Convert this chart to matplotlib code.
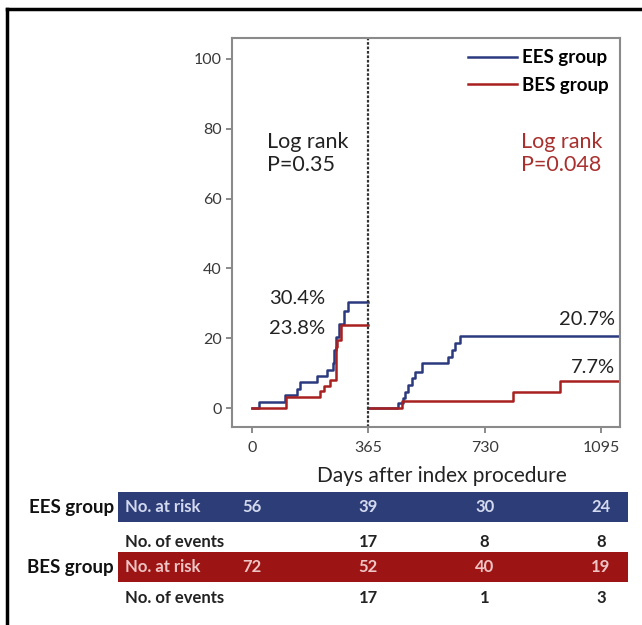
import matplotlib
matplotlib.use("Agg")
import matplotlib.pyplot as plt
from matplotlib.patches import Rectangle
from matplotlib.lines import Line2D
import matplotlib.transforms as mtransforms

plt.rcParams['font.family'] = ['Lato', 'DejaVu Sans']

# cumulative event rate (%), first year
ees_y1_days = [0, 22, 104, 140, 150, 203, 234, 255, 258, 262, 272, 290, 300, 365]
ees_y1_pct = [0, 1.8, 3.7, 5.6, 7.4, 9.2, 11.0, 12.9, 16.6, 20.3, 24.0, 27.7, 30.4, 30.4]
bes_y1_days = [0, 107, 213, 225, 245, 262, 268, 280, 365]
bes_y1_pct = [0, 3.2, 4.8, 6.4, 8.0, 17.5, 19.5, 23.8, 23.8]

# landmark analysis after 1 year
ees_y2_days = [365, 459, 475, 480, 491, 501, 512, 533, 616, 627, 637, 653, 1155]
ees_y2_pct = [0, 1.4, 2.9, 4.7, 6.6, 8.5, 10.4, 12.8, 14.7, 16.6, 18.6, 20.7, 20.7]
bes_y2_days = [365, 470, 820, 967, 1155]
bes_y2_pct = [0, 2.1, 4.7, 7.7, 7.7]

tick_days = [0, 365, 730, 1095]
ees_at_risk = [56, 39, 30, 24]
bes_at_risk = [72, 52, 40, 19]
event_days = [365, 730, 1095]
ees_events = [17, 8, 8]
bes_events = [17, 1, 3]

BLUE = '#2b3a7e'
RED = '#a8201f'
BAR_BLUE = '#2d3d78'
BAR_RED = '#9c1414'
TXT_RED = '#a8302e'

W, H = 642, 625
fig = plt.figure(figsize=(W / 100, H / 100), dpi=100)

def fx(px):
    return px / W

def fy(py):
    return 1 - py / H

ax = fig.add_axes([fx(232), fy(427), fx(620) - fx(232), fy(38) - fy(427)])
ax.step(ees_y1_days, ees_y1_pct, where='post', color=BLUE, lw=1.8, label='EES group')
ax.step(bes_y1_days, bes_y1_pct, where='post', color=RED, lw=1.8, label='BES group')
ax.step(ees_y2_days, ees_y2_pct, where='post', color=BLUE, lw=1.8)
ax.step(bes_y2_days, bes_y2_pct, where='post', color=RED, lw=1.8)
ax.axvline(365, color='#333333', lw=1.6, ls=(0, (1.2, 0.8)))

ax.set_xlim(-63, 1155)
ax.set_ylim(-5.4, 106)
ax.set_xticks(tick_days)
ax.set_yticks([0, 20, 40, 60, 80, 100])
ax.tick_params(direction='out', length=4, width=1.2, color='#777777',
               labelsize=11.5, labelcolor='#3a3a3a')
ax.tick_params(axis='x', pad=6)
for s in ax.spines.values():
    s.set_color('#8a8a8a')
    s.set_linewidth(1.5)
ax.set_xlabel('Days after index procedure', fontsize=15, color='#222222')
ax.xaxis.set_label_coords((442 - 232) / (620 - 232), -0.1)

ax.text(48, 79, 'Log rank\nP=0.35', fontsize=15.5, color='#222222', va='top', linespacing=1.2)
ax.text(845, 79, 'Log rank\nP=0.048', fontsize=15.5, color=TXT_RED, va='top', linespacing=1.2)
ax.text(52, 31.5, '30.4%', fontsize=14.5, color='#222222', va='center')
ax.text(52, 22.8, '23.8%', fontsize=14.5, color='#222222', va='center')
ax.text(1140, 25.5, '20.7%', fontsize=14.5, color='#222222', va='center', ha='right')
ax.text(1140, 11.5, '7.7%', fontsize=14.5, color='#222222', va='center', ha='right')

leg = ax.legend(loc='upper right', frameon=False, handlelength=2.6,
                handletextpad=0.3, borderaxespad=0.2, labelspacing=0.55,
                borderpad=0.4, prop={'weight': 'bold', 'size': 13.5})

# risk table below the plot
trans = mtransforms.blended_transform_factory(ax.transData, fig.transFigure)
rows = [
    (507, 'EES group', BAR_BLUE, '#d3d9ee', ees_at_risk),
    (567, 'BES group', BAR_RED, '#efc4c4', bes_at_risk),
]
for py, name, bar_col, txt_col, risk in rows:
    fig.add_artist(Rectangle((fx(118), fy(py + 15)), fx(628) - fx(118), fy(py - 15) - fy(py + 15),
                             transform=fig.transFigure, color=bar_col, lw=0))
    fig.text(fx(114), fy(py), name, ha='right', va='center', fontsize=13.5,
             fontweight='bold', color='#111111')
    fig.text(fx(125), fy(py), 'No. at risk', ha='left', va='center', fontsize=12,
             fontweight='bold', color=txt_col)
    for d, n in zip(tick_days, risk):
        fig.text(d, fy(py), str(n), ha='center', va='center', fontsize=12,
                 fontweight='bold', color=txt_col, transform=trans)

for py, ev in [(542, ees_events), (598, bes_events)]:
    fig.text(fx(125), fy(py), 'No. of events', ha='left', va='center', fontsize=12,
             fontweight='bold', color='#222222')
    for d, n in zip(event_days, ev):
        fig.text(d, fy(py), str(n), ha='center', va='center', fontsize=12,
                 fontweight='bold', color='#222222', transform=trans)

# outer frame (only top and left visible in the crop)
fig.add_artist(Line2D([fx(7), fx(7)], [0, fy(9)], transform=fig.transFigure, color='black', lw=2.5))
fig.add_artist(Line2D([fx(7), 1], [fy(9), fy(9)], transform=fig.transFigure, color='black', lw=2.5))

fig.savefig('out.png', dpi=100)
